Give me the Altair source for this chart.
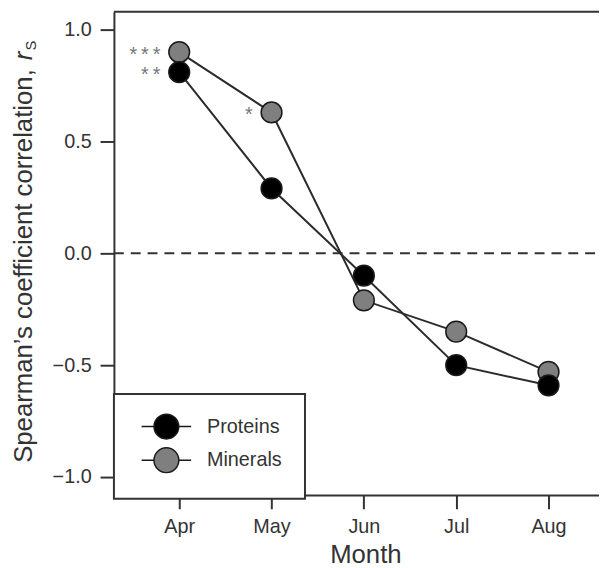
import altair as alt
import pandas as pd

months = ["Apr", "May", "Jun", "Jul", "Aug"]
proteins = [0.81, 0.29, -0.10, -0.50, -0.59]
minerals = [0.90, 0.63, -0.21, -0.35, -0.53]
stars_proteins = ["**", "", "", "", ""]
stars_minerals = ["***", "*", "", "", ""]
series_names = ["Proteins", "Minerals"]
series_colors = ["#000000", "#7f7f7f"]
y_ticks = [-1.0, -0.5, 0.0, 0.5, 1.0]
y_title_main = "Spearman\u2019s coefficient correlation,"
y_title_r = "r"
y_title_sub = "S"
x_title = "Month"

FONT = "Liberation Sans"
INK = "#333333"

rows = []
for m, v, s in zip(months, minerals, stars_minerals):
    rows.append(dict(month=m, value=v, series="Minerals", stars="\u2009".join(s)))
for m, v, s in zip(months, proteins, stars_proteins):
    rows.append(dict(month=m, value=v, series="Proteins", stars="\u2009".join(s)))
df = pd.DataFrame(rows)

W, H = 490, 488

x_enc = alt.X(
    "month:N",
    sort=months,
    scale=alt.Scale(type="point", padding=0.627, align=0.564),
    axis=alt.Axis(
        title=x_title, labelAngle=0, tickSize=14, tickWidth=2, tickColor=INK,
        domainColor=INK, domainWidth=2, labelFontSize=20, labelFont=FONT,
        labelColor=INK, labelPadding=8, titleFont=FONT, titleFontSize=26,
        titleFontWeight="normal", titleColor=INK, titleX=254, titleY=68,
        titleBaseline="alphabetic",
    ),
)
y_enc = alt.Y(
    "value:Q",
    scale=alt.Scale(domain=[-1.08, 1.08], nice=False, zero=False),
    axis=alt.Axis(
        values=y_ticks, format=".1f", title=None, grid=False, tickSize=14,
        tickWidth=2, tickColor=INK, domainColor=INK, domainWidth=2,
        labelFontSize=20, labelFont=FONT, labelColor=INK, labelPadding=9,
    ),
)

base = alt.Chart(df)

legend_path = ("M-2.78,0L-1.39,0M1.39,0L2.78,0"
               "M-1.39,0A1.39,1.39,0,1,0,1.39,0A1.39,1.39,0,1,0,-1.39,0Z")

zero_line = alt.Chart(pd.DataFrame({"z": [0.0]})).mark_rule(
    color=INK, strokeWidth=2, strokeDash=[10, 7]
).encode(y="z:Q", x=alt.value(0), x2=alt.value(W))

lines = base.mark_line(color="#2b2b2b", strokeWidth=2).encode(
    x=x_enc, y=y_enc, detail="series:N"
)

points = base.mark_point(
    filled=True, shape="circle", size=440, stroke="#1a1a1a", strokeWidth=1.5, opacity=1
).encode(
    x=x_enc,
    y=y_enc,
    color=alt.Color(
        "series:N",
        scale=alt.Scale(domain=series_names, range=series_colors),
        legend=alt.Legend(
            orient="none", legendX=0, legendY=386, title=None,
            symbolType=legend_path, symbolSize=324, symbolStrokeColor="#1a1a1a",
            symbolStrokeWidth=1.5, symbolOffset=20, labelOffset=31,
            labelFontSize=20, labelFont=FONT, labelColor=INK, rowPadding=2,
            padding=23, strokeColor=INK, fillColor="white",
        ),
    ),
)

stars = base.mark_text(
    align="right", baseline="middle", dx=-19, dy=3, fontSize=20, font=FONT, color="#777777"
).encode(x=x_enc, y=y_enc, text="stars:N")

top_frame = alt.Chart(pd.DataFrame({"f": [1]})).mark_rule(
    color=INK, strokeWidth=2
).encode(y=alt.value(0), x=alt.value(0), x2=alt.value(W))

title_main = alt.Chart(pd.DataFrame({"t": [y_title_main]})).mark_text(
    angle=270, align="right", baseline="alphabetic", fontSize=26, font=FONT, color=INK
).encode(text="t:N", x=alt.value(-83), y=alt.value(58))

title_r = alt.Chart(pd.DataFrame({"t": [y_title_r]})).mark_text(
    angle=270, align="left", baseline="alphabetic", fontSize=26, font=FONT,
    fontStyle="italic", color=INK
).encode(text="t:N", x=alt.value(-83), y=alt.value(49))

title_s = alt.Chart(pd.DataFrame({"t": [y_title_sub]})).mark_text(
    angle=270, align="left", baseline="alphabetic", fontSize=15, font=FONT, color=INK
).encode(text="t:N", x=alt.value(-79), y=alt.value(39))

chart = alt.layer(
    zero_line, lines, points, stars, top_frame, title_main, title_r, title_s
).properties(
    width=W, height=H, autosize="none",
    padding={"left": 107, "top": 1, "right": 0, "bottom": 70},
).configure_view(stroke="transparent").configure_legend(strokeWidth=2)

chart.save("out.html", embed_options={"renderer": "svg", "actions": False})
